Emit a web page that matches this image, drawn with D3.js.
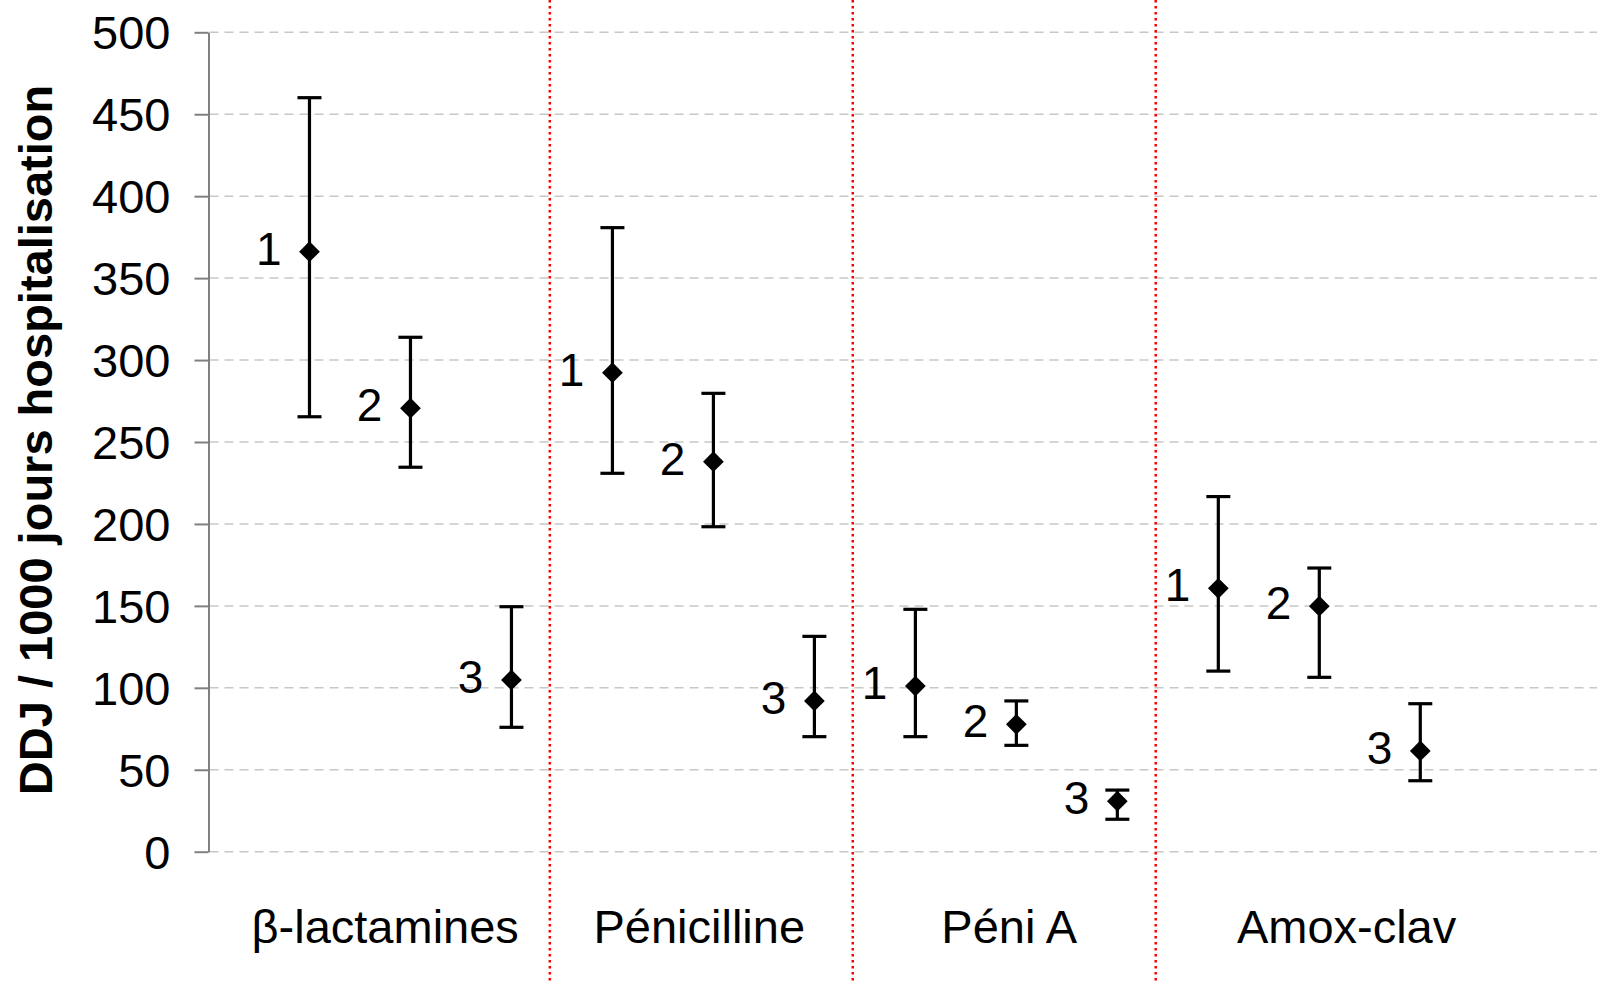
<!DOCTYPE html>
<html><head><meta charset="utf-8">
<script src="https://cdn.jsdelivr.net/npm/d3@7"></script>
<style>
body{margin:0;background:#fff;}
svg{display:block;}
text{font-family:"Liberation Sans",Arial,sans-serif;}
</style>
</head><body>
<svg id="chart" width="1597" height="982"></svg>
<script>
// ---------- data ----------
const groups = ["β-lactamines", "Pénicilline", "Péni A", "Amox-clav"];
const periodLabels = ["1", "2", "3"];
const means = [366.1, 270.6, 104.8, 292.3, 238.0, 92.0, 101.1, 77.7, 30.8, 160.7, 149.8, 61.5];
const lows  = [265.4, 234.6, 75.9, 230.9, 198.3, 70.2, 70.2, 64.9, 19.8, 110.2, 106.4, 43.3];
const highs = [460.1, 313.9, 149.5, 380.8, 279.7, 131.4, 147.9, 92.0, 37.6, 216.7, 173.1, 90.3];
const yTicks = [0, 50, 100, 150, 200, 250, 300, 350, 400, 450, 500];
const yTitle = "DDJ / 1000 jours hospitalisation";

// ---------- layout ----------
const W = 1597, H = 982;
const axisX = 208.5, plotTop = 32.3, plotBottom = 851.7;
const xDomainMax = 13.75;
const separatorIdx = [3.38, 6.38, 9.38];
const groupCenterIdx = [1.75, 4.86, 7.93, 11.27];

const svg = d3.select("#chart");
svg.append("rect").attr("width", W).attr("height", H).attr("fill", "#fff");

const x = d3.scaleLinear().domain([0, xDomainMax]).range([axisX, W]);
const y = d3.scaleLinear().domain([0, 500]).range([plotBottom, plotTop]);

const rows = means.map((m, i) => ({
  idx: i + 1,
  group: groups[Math.floor(i / 3)],
  label: periodLabels[i % 3],
  mean: m, low: lows[i], high: highs[i]
}));

// gridlines
svg.append("g").selectAll("line").data(yTicks).join("line")
  .attr("x1", axisX + 1).attr("x2", W)
  .attr("y1", d => y(d)).attr("y2", d => y(d))
  .attr("stroke", "#c8c8c8").attr("stroke-width", 1.5)
  .attr("stroke-dasharray", "9,6");

// separators
svg.append("g").selectAll("line").data(separatorIdx).join("line")
  .attr("x1", d => x(d)).attr("x2", d => x(d))
  .attr("y1", 0).attr("y2", H)
  .attr("stroke", "#ff0000").attr("stroke-width", 2.5)
  .attr("stroke-dasharray", "2.5,3.5");

// y axis
const yAxis = d3.axisLeft(y).tickValues(yTicks).tickSize(14).tickPadding(24).tickSizeOuter(0);
const gy = svg.append("g").attr("transform", `translate(${axisX},0)`).call(yAxis);
gy.select(".domain").attr("stroke", "#808080").attr("stroke-width", 2);
gy.selectAll(".tick line").attr("stroke", "#808080").attr("stroke-width", 2);
gy.selectAll(".tick text")
  .attr("fill", "#000")
  .attr("dy", "0.35em")
  .style("font-size", "47px")
  .style("font-family", '"Liberation Sans", Arial, sans-serif');

// y title
svg.append("text")
  .attr("transform", `translate(51.5,${(90 + 790) / 2}) rotate(-90)`)
  .attr("text-anchor", "middle")
  .style("font-size", "47px").style("font-weight", "bold")
  .text(yTitle);

// error bars
const capHalf = 12;
const eb = svg.append("g").attr("stroke", "#000").attr("stroke-width", 3.2);
eb.selectAll("line.v").data(rows).join("line").attr("class", "v")
  .attr("x1", d => x(d.idx)).attr("x2", d => x(d.idx))
  .attr("y1", d => y(d.low)).attr("y2", d => y(d.high));
eb.selectAll("line.hi").data(rows).join("line").attr("class", "hi")
  .attr("x1", d => x(d.idx) - capHalf).attr("x2", d => x(d.idx) + capHalf)
  .attr("y1", d => y(d.high)).attr("y2", d => y(d.high));
eb.selectAll("line.lo").data(rows).join("line").attr("class", "lo")
  .attr("x1", d => x(d.idx) - capHalf).attr("x2", d => x(d.idx) + capHalf)
  .attr("y1", d => y(d.low)).attr("y2", d => y(d.low));

// markers (diamonds)
const sym = d3.symbol(d3.symbolSquare, 215);
svg.append("g").selectAll("path").data(rows).join("path")
  .attr("d", sym)
  .attr("transform", d => `translate(${x(d.idx)},${y(d.mean)}) rotate(45)`)
  .attr("fill", "#000");

// point labels
svg.append("g").selectAll("text").data(rows).join("text")
  .attr("x", d => x(d.idx) - 28)
  .attr("y", d => y(d.mean) + 13)
  .attr("text-anchor", "end")
  .style("font-size", "46px")
  .text(d => d.label);

// group labels
svg.append("g").selectAll("text").data(groups).join("text")
  .attr("x", (d, i) => x(groupCenterIdx[i]))
  .attr("y", 943)
  .attr("text-anchor", "middle")
  .style("font-size", "47px")
  .text(d => d);
</script>
</body></html>
